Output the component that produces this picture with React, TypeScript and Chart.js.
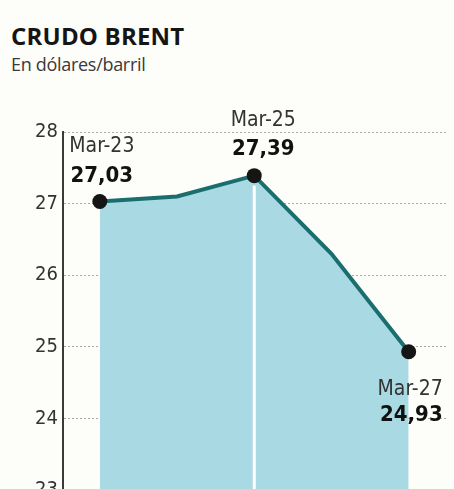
import React, { useEffect, useRef } from "react";
import { Chart, registerables } from "chart.js";

Chart.register(...registerables);

const title = "CRUDO BRENT";
const subtitle = "En dólares/barril";
const categories = ["Mar-23", "Mar-24", "Mar-25", "Mar-26", "Mar-27"];
const prices = [27.03, 27.1, 27.39, 26.3, 24.93];
const labeledIndices = [0, 2, 4];
const yTicks = [23, 24, 25, 26, 27, 28];
const dividerIndex = 2;

const NARROW = "'DejaVu Sans Condensed', 'DejaVu Sans', sans-serif";

const fmt = (v: number) => v.toFixed(2).replace(".", ",");

export default function App() {
  const ref = useRef<HTMLCanvasElement | null>(null);

  useEffect(() => {
    document.body.style.margin = "0";
    document.body.style.background = "#fdfdf9";
    const canvas = ref.current;
    if (!canvas) return;

    const dividerPlugin = {
      id: "divider",
      afterDatasetsDraw(chart: any) {
        const meta = chart.getDatasetMeta(0);
        const el = meta.data[dividerIndex];
        const ctx = chart.ctx;
        ctx.save();
        ctx.strokeStyle = "#ffffff";
        ctx.lineWidth = 3;
        ctx.beginPath();
        ctx.moveTo(el.x, el.y + 10);
        ctx.lineTo(el.x, chart.chartArea.bottom);
        ctx.stroke();
        ctx.restore();
      },
    };

    const labelOffsets: Record<number, any> = {
      0: { dx: 2, nameDy: -55, valDy: -25, align: "center" },
      2: { dx: 9, nameDy: -55, valDy: -26, align: "center" },
      4: { dx: 34, nameDy: 38, valDy: 63, align: "right" },
    };

    const labelPlugin = {
      id: "pointLabels",
      afterDatasetsDraw(chart: any) {
        const meta = chart.getDatasetMeta(0);
        const ctx = chart.ctx;
        ctx.save();
        ctx.textBaseline = "middle";
        labeledIndices.forEach((i) => {
          const el = meta.data[i];
          const o = labelOffsets[i];
          ctx.textAlign = o.align;
          ctx.fillStyle = "#333333";
          ctx.font = `21px ${NARROW}`;
          ctx.fillText(categories[i], el.x + o.dx, el.y + o.nameDy);
          ctx.fillStyle = "#111111";
          ctx.font = `bold 22px ${NARROW}`;
          ctx.fillText(fmt(prices[i]), el.x + o.dx, el.y + o.valDy);
        });
        ctx.restore();
      },
    };

    const chart = new Chart(canvas, {
      type: "line",
      data: {
        datasets: [
          {
            data: prices.map((v, i) => ({ x: i, y: v })),
            borderColor: "#1b6e6e",
            borderWidth: 4,
            backgroundColor: "#a9dae4",
            fill: "start",
            tension: 0,
            pointRadius: 7.5,
            pointHoverRadius: 7.5,
            pointBackgroundColor: (c: any) =>
              labeledIndices.includes(c.dataIndex) ? "#151515" : "rgba(0,0,0,0)",
            pointBorderWidth: 0,
          },
        ],
      },
      options: {
        animation: false,
        responsive: false,
        layout: { padding: { top: 132, right: 6, bottom: 30, left: 0 } },
        plugins: {
          legend: { display: false },
          tooltip: { enabled: false },
          title: { display: false },
        },
        scales: {
          x: {
            type: "linear",
            min: -0.477,
            max: 4.49,
            display: false,
          },
          y: {
            min: 23,
            max: 28,
            afterBuildTicks: (scale: any) => {
              scale.ticks = yTicks.map((v) => ({ value: v }));
            },
            afterFit: (scale: any) => {
              scale.width = 63;
            },
            grid: {
              color: "#a8a8a8",
              lineWidth: 1,
              drawTicks: false,
            },
            border: { display: true, color: "#3a3a3a", width: 2, dash: [2, 2] },
            ticks: {
              padding: 5,
              color: "#333333",
              font: { family: NARROW, size: 20 },
            },
          },
        },
      },
      plugins: [dividerPlugin, labelPlugin],
    });

    return () => chart.destroy();
  }, []);

  return (
    <div style={{ position: "relative", width: 454, height: 489, overflow: "hidden", background: "#fdfdf9" }}>
      <div
        style={{
          position: "absolute",
          left: 11,
          top: 19,
          fontFamily: "'Open Sans', sans-serif",
          fontWeight: 700,
          fontSize: 24,
          letterSpacing: 0.2,
          color: "#151515",
          whiteSpace: "nowrap",
        }}
      >
        {title}
      </div>
      <div
        style={{
          position: "absolute",
          left: 11,
          top: 52,
          fontFamily: "'Open Sans', sans-serif",
          fontSize: 18,
          letterSpacing: -0.3,
          color: "#3a3a3a",
          whiteSpace: "nowrap",
        }}
      >
        {subtitle}
      </div>
      <canvas ref={ref} width={454} height={520} style={{ position: "absolute", left: 0, top: 0 }} />
    </div>
  );
}
